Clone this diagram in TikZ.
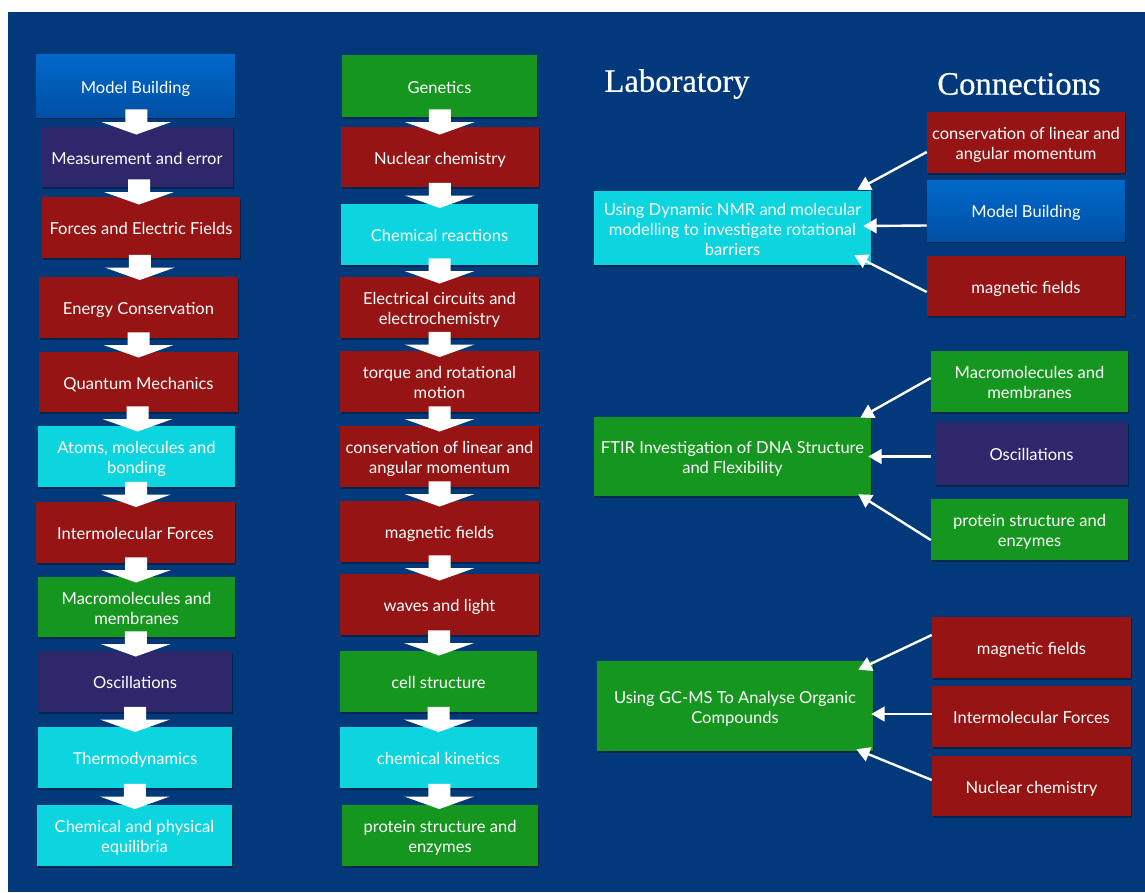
\documentclass[tikz,border=0pt]{standalone}
\usepackage{fontspec}
\setmainfont{Lato}
\newfontfamily\titlefont[FakeBold=0.6]{Liberation Serif}
\usetikzlibrary{calc,arrows.meta,shadows}
\definecolor{bg}{HTML}{01397A}
\definecolor{cred}{HTML}{961414}
\definecolor{ccyan}{HTML}{0DD5DF}
\definecolor{cgreen}{HTML}{15961E}
\definecolor{cpurple}{HTML}{2E276B}
\definecolor{cblueT}{HTML}{0068CA}
\definecolor{cblueB}{HTML}{0050A4}
\tikzset{
  box/.style={rectangle, inner sep=0pt, text=white, align=center,
    font=\fontsize{12.4}{15}\selectfont,
    drop shadow={shadow xshift=1pt, shadow yshift=-1.2pt, opacity=0.35, fill=black}},
  redbox/.style={box, fill=cred},
  cyanbox/.style={box, fill=ccyan},
  greenbox/.style={box, fill=cgreen},
  purplebox/.style={box, fill=cpurple},
  bluebox/.style={box, top color=cblueT, bottom color=cblueB},
  titletext/.style={text=white, font=\titlefont\fontsize{24.5}{28}\selectfont},
  conn/.style={draw=white, line width=1.8pt, -{Triangle[width=11pt,length=10pt]}},
}
\newcommand\bx[7]{%
  \pgfmathsetmacro\bw{(#5-#3)*0.75}%
  \pgfmathsetmacro\bh{(#6-#4)*0.75}%
  \node[#2, minimum width=\bw pt, minimum height=\bh pt] (#1) at ({(#3+#5)/2},{(#4+#6)/2})
    {\raisebox{-2.5pt}[\height][\depth]{\begin{tabular}{@{}c@{}}#7\end{tabular}}};}
\newcommand\barrow[2]{%
  \fill[white] let \p1=($(#1.south)!0.5!(#2.north)$) in
    (\x1-8.25pt,\y1+9.4pt) -- (\x1+8.25pt,\y1+9.4pt) -- (\x1+8.25pt,\y1) --
    (\x1+26.25pt,\y1) -- (\x1,\y1-9.4pt) -- (\x1-26.25pt,\y1) --
    (\x1-8.25pt,\y1) -- cycle;}
\begin{document}
\begin{tikzpicture}[x=0.75pt,y=-0.75pt]
\fill[white] (0,0) rectangle (1145,892);
\fill[bg] (8,12) rectangle (1145,892);
\useasboundingbox (0,0) rectangle (1145,892);

% left column
\bx{L1}{bluebox}{36}{55}{235}{117}{Model Building}
\bx{L2}{purplebox}{41}{127}{233}{187}{Measurement and error}
\bx{L3}{redbox}{42}{197}{240}{258}{Forces and Electric Fields}
\bx{L4}{redbox}{39}{277}{238}{338}{Energy Conservation}
\bx{L5}{redbox}{39}{352}{238}{412}{Quantum Mechanics}
\bx{L6}{cyanbox}{38}{426}{235}{487}{Atoms, molecules and\\bonding}
\bx{L7}{redbox}{36}{502}{235}{563}{Intermolecular Forces}
\bx{L8}{greenbox}{38}{577}{235}{637}{Macromolecules and\\membranes}
\bx{L9}{purplebox}{38}{651}{232}{712}{Oscillations}
\bx{L10}{cyanbox}{38}{727}{232}{788}{Thermodynamics}
\bx{L11}{cyanbox}{37}{805}{232}{866}{Chemical and physical\\equilibria}

% middle column
\bx{M1}{greenbox}{342}{55}{537}{117}{Genetics}
\bx{M2}{redbox}{341}{127}{539}{187}{Nuclear chemistry}
\bx{M3}{cyanbox}{341}{204}{538}{265}{Chemical reactions}
\bx{M4}{redbox}{340}{277}{539}{338}{Electrical circuits and\\electrochemistry}
\bx{M5}{redbox}{340}{351}{539}{412}{torque and rotational\\motion}
\bx{M6}{redbox}{340}{426}{539}{487}{conservation of linear and\\angular momentum}
\bx{M7}{redbox}{340}{501}{539}{562}{magnetic fields}
\bx{M8}{redbox}{340}{574}{539}{635}{waves and light}
\bx{M9}{greenbox}{340}{651}{537}{712}{cell structure}
\bx{M10}{cyanbox}{340}{727}{537}{788}{chemical kinetics}
\bx{M11}{greenbox}{342}{805}{538}{866}{protein structure and\\enzymes}

% block arrows
\barrow{L1}{L2}\barrow{L2}{L3}\barrow{L3}{L4}\barrow{L4}{L5}\barrow{L5}{L6}
\barrow{L6}{L7}\barrow{L7}{L8}\barrow{L8}{L9}\barrow{L9}{L10}\barrow{L10}{L11}
\barrow{M1}{M2}\barrow{M2}{M3}\barrow{M3}{M4}\barrow{M4}{M5}\barrow{M5}{M6}
\barrow{M6}{M7}\barrow{M7}{M8}\barrow{M8}{M9}\barrow{M9}{M10}\barrow{M10}{M11}

% titles
\node[titletext] (tlab) at (677,84) {Laboratory};
\node[titletext] (tcon) at (1019,84) {Connections};

% laboratory boxes
\bx{Lab1}{cyanbox}{594}{191}{871}{265}{Using Dynamic NMR and molecular\\modelling to investigate rotational\\barriers}
\bx{Lab2}{greenbox}{594}{417}{871}{496}{FTIR Investigation of DNA Structure\\and Flexibility}
\bx{Lab3}{greenbox}{597}{661}{873}{751}{Using GC-MS To Analyse Organic\\Compounds}

% connection boxes
\bx{C1a}{redbox}{927}{112}{1125}{173}{conservation of linear and\\angular momentum}
\bx{C1b}{bluebox}{927}{180}{1125}{241}{Model Building}
\bx{C1c}{redbox}{927}{256}{1125}{316}{magnetic fields}
\bx{C2a}{greenbox}{931}{351}{1128}{412}{Macromolecules and\\membranes}
\bx{C2b}{purplebox}{935}{422}{1128}{485}{Oscillations}
\bx{C2c}{greenbox}{931}{499}{1128}{560}{protein structure and\\enzymes}
\bx{C3a}{redbox}{932}{617}{1131}{678}{magnetic fields}
\bx{C3b}{redbox}{932}{686}{1131}{747}{Intermolecular Forces}
\bx{C3c}{redbox}{932}{756}{1131}{816}{Nuclear chemistry}

% connectors
\draw[conn] ($(C1a.west)+(0,9.5)$) -- ($(Lab1.north east)+(-14,-1)$);
\draw[conn] ($(C1b.west)+(0,15)$) -- ($(Lab1.east)+(-8,-2)$);
\draw[conn] ($(C1c.west)+(0,6)$) -- ($(Lab1.south east)+(-17,-10)$);
\draw[conn] ($(C2a.west)+(0,-3.5)$) -- ($(Lab2.north east)+(-11,1)$);
\draw[conn] ($(C2b.west)+(-4,3)$) -- ($(Lab2.east)+(-3,0)$);
\draw[conn] ($(C2c.west)+(0,10.5)$) -- ($(Lab2.south east)+(-13,-2)$);
\draw[conn] ($(C3a.west)+(0,-12.5)$) -- ($(Lab3.north east)+(-15,9)$);
\draw[conn] ($(C3b.west)+(0,-2.5)$) -- ($(Lab3.east)+(-2,8)$);
\draw[conn] ($(C3c.west)+(0,-6)$) -- ($(Lab3.south east)+(-17,-2)$);
\end{tikzpicture}
\end{document}
